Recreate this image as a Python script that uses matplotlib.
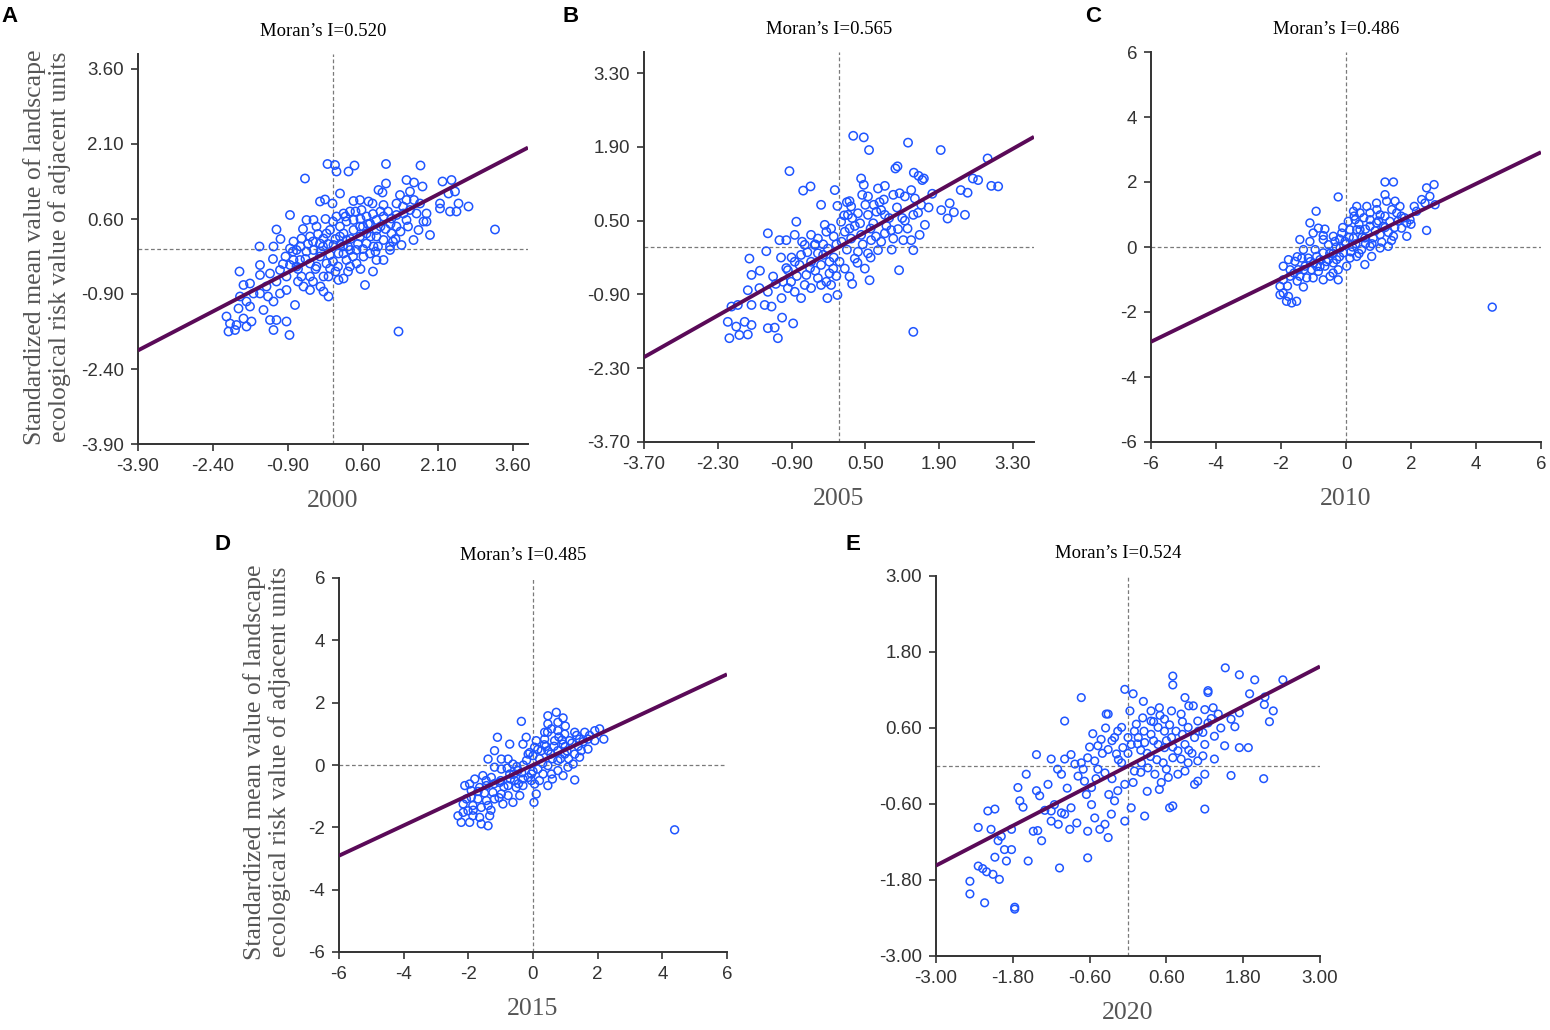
import numpy as np
import matplotlib.pyplot as plt

W, H = 1550, 1030

years = ["2000", "2005", "2010", "2015", "2020"]
letters = ["A", "B", "C", "D", "E"]
morans_i = [0.520, 0.565, 0.486, 0.485, 0.524]

ticks_2000 = [-3.90, -2.40, -0.90, 0.60, 2.10, 3.60]
ticks_2005 = [-3.70, -2.30, -0.90, 0.50, 1.90, 3.30]
ticks_2010 = [-6, -4, -2, 0, 2, 4, 6]
ticks_2015 = [-6, -4, -2, 0, 2, 4, 6]
ticks_2020 = [-3.00, -1.80, -0.60, 0.60, 1.80, 3.00]

# (standardized value, spatial lag)
pts_2000 = np.array([
    (-0.11, 1.70), (0.04, 1.68), (0.07, 1.55), (0.43, 1.67), (0.31, 1.55), (1.06, 1.70), (1.75, 1.67), (-0.56, 1.41),
    (2.19, 1.35), (2.37, 1.38), (1.47, 1.38), (1.62, 1.33), (1.79, 1.25), (1.06, 1.31), (0.91, 1.18), (0.99, 1.13),
    (0.14, 1.11), (-0.26, 0.95), (-0.16, 0.99), (-0.01, 0.91), (0.41, 0.96), (0.54, 0.98), (0.71, 0.95), (0.79, 0.91),
    (1.01, 0.88), (1.27, 0.91), (1.34, 1.08), (1.47, 0.98), (1.54, 1.15), (1.62, 0.98), (1.74, 0.91), (1.87, 0.71),
    (2.14, 0.91), (2.14, 0.81), (2.34, 0.75), (2.47, 0.75), (2.51, 0.91), (2.71, 0.85), (2.31, 1.11), (2.44, 1.15),
    (3.24, 0.39), (-0.86, 0.68), (-1.13, 0.39), (-0.53, 0.58), (-0.39, 0.58), (-0.33, 0.45), (-0.46, 0.25), (-0.63, 0.21),
    (-0.79, 0.15), (-0.13, 0.31), (-0.06, 0.38), (0.07, 0.65), (0.21, 0.71), (0.27, 0.55), (0.34, 0.75), (0.57, 0.78),
    (0.67, 0.65), (0.74, 0.51), (0.87, 0.58), (1.01, 0.65), (1.17, 0.61), (1.27, 0.68), (1.41, 0.71), (1.54, 0.78),
    (1.67, 0.71), (1.81, 0.55), (1.71, 0.38), (1.61, 0.18), (1.37, 0.08), (1.94, 0.28), (1.14, 0.05), (1.01, 0.18),
    (0.87, 0.25), (0.67, 0.31), (0.54, 0.25), (0.41, 0.38), (0.21, 0.31), (0.14, 0.45), (-0.19, 0.21), (-0.26, 0.11),
    (-0.39, -0.02), (-0.53, -0.05), (-0.73, -0.02), (-0.86, 0.01), (-1.19, 0.05), (-1.47, 0.05), (-1.87, -0.45), (-1.79, -0.72),
    (-1.66, -0.69), (-1.46, -0.32), (-1.46, -0.52), (-1.59, -0.89), (-1.73, -1.05), (-1.89, -1.19), (-1.79, -1.39), (-1.63, -1.45),
    (-2.13, -1.35), (-2.09, -1.65), (-1.93, -1.52), (-1.73, -1.55), (-1.39, -1.22), (-1.19, -1.05), (-1.19, -1.62), (-1.13, -1.42),
    (-0.93, -1.45), (-0.87, -1.72), (-0.76, -1.12), (-1.06, -0.89), (-0.93, -0.82), (-1.13, -0.65), (-1.06, -0.42), (-1.26, -0.49),
    (-0.86, -0.32), (-0.73, -0.35), (-0.63, -0.55), (-0.59, -0.75), (-0.46, -0.82), (-0.46, -0.55), (-0.33, -0.35), (-0.19, -0.55),
    (-0.13, -0.29), (-0.06, -0.39), (-0.09, -0.55), (-0.19, -0.85), (-0.09, -0.95), (0.11, -0.62), (0.21, -0.59), (0.34, -0.35),
    (0.47, -0.29), (0.61, -0.15), (0.74, -0.09), (0.87, -0.22), (1.01, -0.22), (1.14, -0.02), (1.31, -1.65), (0.64, -0.72),
    (0.27, -0.22), (0.11, -0.09), (-0.06, -0.12), (-0.26, -0.15), (-0.46, -0.29), (-0.66, -0.22), (-0.79, -0.22), (-0.93, -0.55),
    (-1.33, -0.75), (-1.46, -0.89), (-1.66, -1.15), (-1.86, -0.95), (-2.06, -1.49), (-1.96, -1.62), (-1.26, -1.42), (0.67, 0.11),
    (0.81, 0.05), (0.47, -0.02), (0.34, -0.02), (0.21, -0.09), (0.54, 0.45), (0.41, 0.58), (0.14, 0.25), (0.01, 0.08),
    (0.27, 0.18), (0.87, 0.38), (1.17, 0.31), (1.27, 0.45), (1.47, 0.58), (1.87, 0.55), (-0.30, 0.30), (-0.20, 0.05),
    (0.05, 0.20), (0.20, 0.05), (0.35, 0.20), (0.50, 0.10), (0.60, 0.45), (0.75, 0.25), (0.90, 0.05), (-0.55, -0.20),
    (-0.40, 0.15), (-0.70, -0.40), (-0.95, -0.15), (-1.05, 0.20), (0.10, -0.35), (0.30, -0.45), (0.55, -0.40), (0.80, -0.45),
    (1.05, 0.40), (1.20, 0.15), (-0.15, 0.60), (0.00, -0.25), (-0.60, 0.40), (0.95, 0.75), (1.35, 0.35),
    (-0.80, -0.05), (-0.65, 0.05), (-0.50, 0.10), (-0.35, -0.40), (-0.25, -0.05), (-0.10, 0.10), (0.00, 0.55), (0.05, -0.45),
    (0.15, 0.10), (0.25, 0.65), (0.30, 0.05), (0.40, -0.15), (0.45, 0.75), (0.55, 0.60), (0.60, 0.00), (0.70, 0.50),
    (0.80, 0.70), (0.85, -0.05), (0.95, 0.45), (1.10, 0.75), (1.15, 0.50), (1.25, 0.20), (1.40, 0.85), (1.50, 0.45),
    (-1.00, -0.30), (-1.20, -0.20), (-1.30, -0.95), (-0.70, -0.65), (-0.40, -0.65), (-0.25, -0.75),
])

pts_2005 = np.array([
    (0.27, 2.11), (0.47, 2.08), (0.57, 1.84), (1.31, 1.98), (1.93, 1.84), (-0.94, 1.44), (1.07, 1.49), (1.11, 1.53),
    (1.42, 1.41), (1.51, 1.35), (1.61, 1.30), (1.58, 1.27), (2.82, 1.68), (2.54, 1.30), (2.64, 1.27), (2.89, 1.16),
    (3.02, 1.15), (2.31, 1.08), (2.44, 1.03), (0.42, 1.30), (0.47, 1.18), (0.74, 1.11), (0.87, 1.16), (-0.08, 1.08),
    (-0.68, 1.07), (-0.54, 1.15), (-0.34, 0.80), (-0.03, 0.78), (0.20, 0.87), (0.23, 0.77), (0.44, 0.99), (0.55, 0.96),
    (0.66, 0.80), (0.77, 0.85), (1.03, 0.99), (1.15, 1.02), (1.25, 0.96), (1.37, 1.08), (1.44, 0.92), (1.56, 0.80),
    (1.77, 1.01), (1.94, 0.70), (2.10, 0.83), (2.06, 0.54), (2.18, 0.66), (2.39, 0.61), (1.41, 0.61), (1.63, 0.42),
    (1.53, 0.23), (1.37, 0.13), (1.41, -0.06), (1.12, 0.34), (0.99, 0.32), (0.87, 0.61), (0.71, 0.67), (0.55, 0.61),
    (0.36, 0.64), (0.17, 0.61), (0.04, 0.48), (0.11, 0.29), (0.23, 0.16), (0.42, 0.23), (0.61, 0.13), (0.80, 0.10),
    (0.87, 0.26), (1.03, 0.16), (1.22, 0.13), (0.74, -0.06), (0.55, -0.12), (0.36, -0.09), (0.30, -0.22), (0.49, -0.41),
    (0.58, -0.63), (0.20, -0.56), (0.11, -0.41), (0.01, -0.28), (-0.11, -0.41), (-0.03, -0.91), (-0.18, -0.50), (-0.24, -0.66),
    (-0.34, -0.72), (-0.53, -0.78), (-0.72, -0.97), (-0.84, -0.85), (-0.97, -0.78), (-1.06, -0.66), (-1.25, -0.56), (-1.35, -0.85),
    (-1.51, -0.78), (-1.73, -0.82), (-1.66, -0.53), (-1.70, -0.22), (-1.35, 0.26), (-1.38, -0.08), (-1.13, 0.13), (-1.00, 0.13),
    (-0.84, 0.23), (-0.81, 0.48), (-0.53, 0.23), (-0.40, 0.16), (-0.27, 0.42), (-0.24, 0.29), (-0.46, 0.04), (-0.65, 0.04),
    (-0.72, -0.15), (-0.84, -0.28), (-0.53, -0.28), (-0.40, -0.12), (-0.34, -0.34), (-0.40, -0.59), (-0.21, -0.03), (-0.97, -0.44),
    (-0.75, -0.34), (-0.62, -0.53), (-1.09, -0.97), (-1.28, -1.13), (-1.41, -1.10), (-1.66, -1.10), (-1.92, -1.10), (-2.04, -1.13),
    (-2.11, -1.42), (-1.95, -1.51), (-1.79, -1.42), (-1.73, -1.66), (-1.89, -1.67), (-2.08, -1.73), (-1.35, -1.54), (-1.22, -1.53),
    (-1.16, -1.73), (-0.87, -1.45), (-1.08, -1.34), (-1.66, -1.48), (1.14, -0.44), (1.41, -1.61), (-0.22, -0.97), (-0.15, -0.72),
    (-0.65, -0.72), (-0.91, -0.66), (-0.18, -0.28), (0.05, 0.10), (-0.10, 0.20), (0.30, 0.40), (0.15, -0.05), (-0.30, -0.15),
    (0.60, 0.35), (0.45, 0.05), (-0.55, -0.40), (-0.10, -0.20), (0.25, 0.55), (0.90, 0.40), (1.20, 0.55), (-1.00, -0.40),
    (0.70, 0.20), (-0.45, 0.05),
    (-0.90, -0.20), (-0.70, 0.10), (-0.60, -0.10), (-0.45, -0.45), (-0.30, 0.05), (-0.15, 0.35), (-0.05, 0.05), (0.10, 0.60),
    (0.20, 0.35), (0.35, -0.30), (0.40, 0.45), (0.50, 0.80), (0.60, -0.20), (0.65, 0.45), (0.80, 0.70), (0.95, 0.55),
    (1.00, -0.05), (1.10, 0.75), (1.30, 0.35), (1.50, 0.65), (1.70, 0.75), (-1.20, -0.70), (-1.50, -0.45), (-0.80, -0.55),
    (0.25, -0.70), (-0.05, -0.55), (0.15, 0.85), (0.85, 0.90), (1.25, 0.50), (-1.10, -0.20),
])

pts_2010 = np.array([
    (1.20, 2.00), (1.46, 2.00), (2.48, 1.82), (2.71, 1.92), (-0.24, 1.54), (2.58, 1.56), (2.33, 1.46), (2.43, 1.35),
    (2.74, 1.30), (1.20, 1.61), (1.25, 1.41), (1.51, 1.41), (1.66, 1.25), (0.94, 1.35), (0.64, 1.25), (0.33, 1.25),
    (0.43, 1.05), (0.74, 1.05), (1.05, 0.99), (1.41, 1.15), (1.56, 1.05), (2.17, 1.10), (1.97, 0.84), (1.87, 0.74),
    (1.71, 0.58), (1.87, 0.33), (2.48, 0.51), (-0.92, 1.10), (-1.11, 0.74), (-0.85, 0.58), (-0.65, 0.55), (-1.01, 0.43),
    (-1.42, 0.23), (-1.11, 0.17), (-0.70, 0.23), (-0.39, 0.33), (-0.13, 0.43), (0.07, 0.79), (0.28, 0.84), (0.12, 0.53),
    (0.43, 0.53), (0.74, 0.64), (0.94, 0.74), (1.15, 0.64), (1.35, 0.79), (1.46, 0.33), (1.30, 0.02), (1.05, -0.03),
    (0.74, 0.02), (0.48, -0.08), (0.33, -0.29), (0.58, -0.54), (0.12, -0.34), (-0.08, -0.18), (-0.18, -0.03), (-0.34, 0.17),
    (-0.54, 0.07), (-0.70, -0.18), (-0.90, -0.29), (-1.31, -0.08), (-1.57, -0.44), (-1.77, -0.39), (-1.93, -0.59), (-1.72, -0.70),
    (-1.47, -0.70), (-1.26, -0.59), (-1.06, -0.70), (-0.85, -0.75), (-0.65, -0.59), (-0.39, -0.49), (-0.24, -0.70), (-0.24, -1.01),
    (-0.49, -0.90), (-0.70, -1.01), (-1.01, -0.95), (-1.21, -0.95), (-1.42, -0.90), (-1.72, -0.90), (-1.93, -1.01), (-2.03, -1.21),
    (-1.93, -1.42), (-2.03, -1.47), (-1.77, -1.52), (-1.83, -1.67), (-1.67, -1.72), (-1.52, -1.67), (-1.31, -1.23), (-0.80, -0.39),
    (-0.95, -0.08), (0.02, -0.59), (-0.03, 0.17), (0.23, 0.28), (0.58, 0.28), (0.84, 0.28), (1.05, 0.38), (0.79, -0.29),
    (-0.29, -0.39), (-0.54, -0.39), (-1.16, -0.34), (-1.36, -0.34), (0.33, 0.53), (0.74, 0.84), (0.23, 1.10), (4.50, -1.85),
    (0.00, 0.10), (-0.20, -0.30), (0.20, 0.00), (0.50, 0.30), (-0.50, -0.20), (0.90, 0.50), (1.20, 0.60), (-1.00, -0.50),
    (-1.50, -0.30), (0.60, 0.10), (-0.30, 0.00), (1.60, 0.80), (-0.80, -0.60), (0.40, 0.70), (1.80, 0.90),
    (-1.60, -0.80), (-1.30, -0.70), (-1.10, -0.45), (-0.90, -0.60), (-0.60, -0.45), (-0.40, -0.20), (-0.20, 0.25), (0.10, 0.30),
    (0.30, 0.10), (0.40, -0.20), (0.60, 0.55), (0.80, 0.10), (1.00, 0.80), (1.10, 0.15), (1.30, 0.45), (1.50, 0.60),
    (1.70, 0.95), (2.00, 0.70), (0.15, -0.15), (-0.10, 0.60), (-0.70, 0.35), (0.55, 0.90), (0.95, 1.15), (-1.80, -1.20),
    (-1.50, -1.05), (1.20, 0.95), (-0.40, -0.80), (0.25, 0.95), (2.10, 1.25), (1.40, 0.20),
])

pts_2015 = np.array([
    (0.72, 1.69), (0.46, 1.58), (0.93, 1.51), (0.77, 1.37), (-0.36, 1.40), (-1.10, 0.89), (0.46, 1.32), (0.57, 1.16),
    (0.36, 1.05), (0.77, 1.10), (0.98, 0.99), (1.29, 1.05), (1.60, 1.05), (1.91, 1.10), (2.06, 1.16), (2.19, 0.83),
    (1.70, 0.83), (1.44, 0.83), (1.13, 0.78), (0.93, 0.67), (0.67, 0.78), (0.36, 0.83), (0.10, 0.78), (-0.21, 0.89),
    (-0.31, 0.67), (0.05, 0.57), (0.26, 0.46), (0.46, 0.46), (0.77, 0.46), (0.98, 0.35), (1.29, 0.35), (1.49, 0.46),
    (1.44, 0.25), (1.24, 0.03), (1.08, -0.07), (0.77, -0.18), (0.57, -0.29), (0.31, -0.29), (0.46, -0.02), (0.15, -0.13),
    (-0.05, -0.29), (0.05, -0.61), (0.10, -0.93), (-0.31, -0.45), (-0.46, -0.18), (-0.62, 0.03), (-0.77, 0.19), (-0.98, 0.19),
    (-1.19, 0.46), (-1.39, 0.19), (-1.19, -0.07), (-0.98, -0.13), (-0.72, -0.29), (-0.57, -0.50), (-0.31, -0.66), (-0.15, -0.40),
    (-0.52, -0.72), (-0.77, -0.66), (-1.03, -0.56), (-1.29, -0.40), (-1.55, -0.34), (-1.80, -0.45), (-1.96, -0.61), (-2.11, -0.66),
    (-1.91, -0.82), (-1.65, -0.72), (-1.44, -0.66), (-1.24, -0.88), (-0.98, -0.93), (-0.77, -0.98), (-0.62, -1.20), (-0.93, -1.25),
    (-1.19, -1.09), (-1.44, -1.14), (-1.70, -1.09), (-1.91, -1.04), (-2.06, -1.09), (-2.16, -1.25), (-2.32, -1.63), (-2.16, -1.52),
    (-2.01, -1.47), (-1.86, -1.30), (-1.60, -1.36), (-1.39, -1.30), (-1.86, -1.63), (-1.65, -1.68), (-1.34, -1.63), (-2.22, -1.84),
    (-1.96, -1.84), (-1.60, -1.89), (-1.39, -1.95), (0.03, -1.20), (1.29, -0.48), (-0.41, -0.98), (-0.15, 0.35), (0.77, 0.14),
    (0.93, -0.34), (0.46, -0.66), (-0.72, 0.67), (1.70, 0.51), (1.91, 0.78), (4.38, -2.08), (0.20, 0.20), (-0.30, 0.00),
    (0.60, 0.20), (-0.60, -0.30), (1.00, 0.60), (0.00, -0.20), (-1.00, -0.50), (0.40, 0.60), (1.40, 0.60), (-1.50, -0.90),
    (0.80, 0.90), (-0.10, 0.40), (1.10, 0.20), (-0.80, -0.10),
    (-1.70, -0.85), (-1.45, -0.50), (-1.20, -0.60), (-0.90, -0.70), (-0.70, -0.45), (-0.50, -0.05), (-0.35, -0.25), (-0.20, 0.15),
    (0.00, 0.30), (0.15, 0.50), (0.30, 0.05), (0.35, 0.65), (0.55, 0.35), (0.65, 0.60), (0.85, 0.20), (0.90, 0.80),
    (1.05, 0.45), (1.20, 0.70), (1.35, 0.95), (1.55, 0.75), (1.75, 0.95), (0.60, -0.45), (0.20, -0.50), (-0.05, -0.50),
    (-1.05, -1.05), (-1.30, -1.45), (-1.85, -1.45), (-0.45, -0.60), (0.45, 1.05), (1.00, 1.25),
])

pts_2020 = np.array([
    (1.52, 1.55), (1.74, 1.44), (1.98, 1.36), (2.42, 1.36), (0.70, 1.42), (0.70, 1.28), (1.25, 1.19), (1.25, 1.16),
    (1.90, 1.14), (2.14, 1.09), (2.13, 0.97), (2.27, 0.87), (2.21, 0.70), (1.67, 0.62), (1.74, 0.84), (1.61, 0.74),
    (-0.73, 1.08), (-0.05, 1.21), (0.08, 1.14), (0.24, 1.02), (0.36, 0.87), (0.49, 0.92), (0.57, 0.74), (0.68, 0.87),
    (0.89, 1.08), (1.02, 0.95), (0.83, 0.82), (0.94, 0.61), (1.09, 0.71), (1.20, 0.89), (1.33, 0.92), (1.41, 0.82),
    (1.25, 0.68), (1.17, 0.53), (1.35, 0.47), (1.51, 0.32), (1.74, 0.29), (1.88, 0.29), (1.20, 0.34), (1.04, 0.45),
    (0.89, 0.34), (0.78, 0.24), (0.68, 0.45), (0.57, 0.55), (0.47, 0.61), (0.36, 0.71), (0.23, 0.76), (0.13, 0.66),
    (0.03, 0.87), (-0.10, 0.61), (-0.16, 0.55), (-0.21, 0.45), (-0.31, 0.82), (-0.55, 0.51), (-0.42, 0.42), (-0.47, 0.32),
    (-0.31, 0.26), (-0.18, 0.19), (-0.08, 0.29), (0.05, 0.34), (0.16, 0.45), (0.26, 0.37), (0.36, 0.50), (0.47, 0.34),
    (0.57, 0.29), (0.70, 0.13), (0.83, 0.11), (0.94, 0.05), (1.09, 0.08), (1.17, 0.16), (1.35, 0.11), (0.89, -0.08),
    (0.78, -0.13), (0.63, -0.18), (0.52, -0.26), (0.42, -0.13), (0.31, -0.03), (0.21, 0.05), (0.10, -0.08), (0.08, -0.26),
    (-0.05, -0.29), (-0.16, -0.39), (-0.21, -0.55), (-0.26, -0.76), (-0.52, -0.82), (-0.36, -0.92), (-0.63, -1.03), (-0.44, -1.00),
    (-0.31, -1.13), (-0.57, -0.61), (-0.65, -0.45), (-0.68, -0.24), (-0.78, -0.16), (-0.83, 0.03), (-0.99, 0.11), (-1.04, -0.13),
    (-1.20, 0.11), (-1.25, -0.29), (-1.43, 0.18), (-1.59, -0.13), (-1.72, -0.34), (-1.69, -0.55), (-1.43, -0.39), (-1.38, -0.47),
    (-1.64, -0.65), (-0.99, 0.71), (-0.34, 0.82), (0.26, -0.79), (0.65, -0.66), (0.70, -0.63), (-0.05, -0.87), (0.05, -0.66),
    (0.49, -0.37), (1.04, -0.29), (1.09, -0.24), (1.20, -0.13), (1.20, -0.68), (1.61, -0.15), (2.12, -0.20), (-0.89, 0.18),
    (-0.73, 0.05), (-0.52, 0.08), (-0.63, 0.13), (-0.47, -0.05), (-0.36, -0.11), (-0.57, -0.34), (-0.89, -0.66), (-1.04, -0.74),
    (-1.15, -0.61), (-1.20, -0.87), (-1.09, -0.92), (-0.91, -1.00), (-0.63, -1.45), (-1.07, -1.61), (-1.56, -1.50), (-1.35, -1.18),
    (-1.48, -1.03), (-1.41, -1.02), (-1.82, -1.00), (-1.98, -1.11), (-2.14, -1.00), (-2.19, -0.71), (-2.08, -0.68), (-2.34, -0.97),
    (-2.03, -1.18), (-1.93, -1.32), (-1.82, -1.32), (-2.08, -1.44), (-1.90, -1.50), (-2.34, -1.58), (-2.27, -1.62), (-2.21, -1.67),
    (-2.11, -1.71), (-2.01, -1.79), (-2.47, -1.82), (-2.47, -2.02), (-2.24, -2.16), (-1.77, -2.23), (-1.77, -2.26), (-1.20, -0.71),
    (-0.99, -0.76), (0.30, 0.20), (0.45, 0.10), (-0.10, 0.05), (0.15, 0.35), (0.60, 0.40), (0.85, 0.50), (-0.25, -0.20),
    (0.00, 0.45), (0.40, 0.70), (0.95, 0.25), (-0.60, 0.30), (0.20, -0.10),
    (-0.40, 0.20), (-0.25, 0.40), (-0.15, 0.10), (0.00, 0.20), (0.10, 0.55), (0.20, 0.25), (0.25, 0.55), (0.35, 0.15),
    (0.40, 0.40), (0.50, 0.80), (0.55, 0.05), (0.65, 0.65), (0.70, 0.30), (0.75, 0.55), (0.85, 0.70), (1.00, 0.20),
    (1.10, 0.55), (1.30, 0.75), (1.45, 0.60), (-0.50, -0.20), (-0.30, -0.45), (-0.70, -0.05), (-0.95, -0.35), (-1.10, -0.05),
    (0.30, -0.40), (0.60, -0.05), (-0.35, 0.60), (0.95, 0.95), (-1.30, -0.70), (-0.80, -0.90),
])

all_pts = [pts_2000, pts_2005, pts_2010, pts_2015, pts_2020]
all_ticks = [ticks_2000, ticks_2005, ticks_2010, ticks_2015, ticks_2020]
tick_fmt = ["{:.2f}", "{:.2f}", "{:d}", "{:d}", "{:.2f}"]
axis_lim = [3.9, 3.7, 6, 6, 3.0]

# axes boxes in pixels: left, top, right, bottom
boxes = [(138, 54, 528, 444), (644, 52, 1034, 442), (1151, 52, 1541, 442),
         (339, 578, 727, 952), (936, 576, 1320, 956)]
letter_pos = [(9, 17), (571, 16), (1093, 16), (222, 544), (853, 545)]
marker_s = [36, 36, 32, 32, 30]

BLUE = "#1f55ff"
PURPLE = "#5a0a58"
DARK = "#333333"
GREY_TXT = "#555555"

fig = plt.figure(figsize=(W / 100, H / 100), dpi=100)

for i in range(5):
    l, t, r, b = boxes[i]
    ax = fig.add_axes([l / W, 1 - b / H, (r - l) / W, (b - t) / H])
    lim = axis_lim[i]
    ax.set_xlim(-lim, lim)
    ax.set_ylim(-lim, lim)

    ax.axhline(0, color="#7a7a7a", lw=0.9, ls=(0, (3, 2)), zorder=1)
    ax.axvline(0, color="#7a7a7a", lw=0.9, ls=(0, (3, 2)), zorder=1)

    pts = all_pts[i]
    ax.scatter(pts[:, 0], pts[:, 1], s=marker_s[i], facecolors="none",
               edgecolors=BLUE, linewidths=1.1, zorder=3)

    xs = np.array([-lim, lim])
    ax.plot(xs, morans_i[i] * xs, color=PURPLE, lw=2.8, zorder=4,
            solid_capstyle="butt")

    tk = all_ticks[i]
    labels = [tick_fmt[i].format(v) for v in tk]
    ax.set_xticks(tk)
    ax.set_xticklabels(labels)
    ax.set_yticks(tk)
    ax.set_yticklabels(labels)

    for side in ["top", "right"]:
        ax.spines[side].set_visible(False)
    for side in ["left", "bottom"]:
        ax.spines[side].set_color(DARK)
        ax.spines[side].set_linewidth(1.4)
    ax.tick_params(direction="out", length=5, width=1.2, color=DARK,
                   labelcolor=DARK, labelsize=13.5, pad=5)
    for lab in ax.get_xticklabels() + ax.get_yticklabels():
        lab.set_family("Liberation Sans")

    ax.annotate(f"Moran\u2019s I={morans_i[i]:.3f}", xy=(0.5, 1.0), xycoords="axes fraction",
                xytext=(-7, 16), textcoords="offset points", ha="center", va="center",
                fontsize=13.5, family="Liberation Serif", color="black")

    ax.set_xlabel(years[i], fontsize=18.5, family="Liberation Serif", color=GREY_TXT, labelpad=11)

    lx, ly = letter_pos[i]
    fig.text(lx / W, 1 - ly / H, letters[i], fontsize=16, fontweight="bold",
             family="Liberation Sans", ha="center", va="center")

ylab = "Standardized mean value of landscape\necological risk value of adjacent units"
for cx, cy in [(47, 247), (267, 762)]:
    fig.text(cx / W, 1 - cy / H, ylab, rotation=90, ha="center", va="center",
             multialignment="center", fontsize=18.5, family="Liberation Serif",
             color=GREY_TXT, linespacing=1.15)

fig.savefig("out.png", dpi=100)
